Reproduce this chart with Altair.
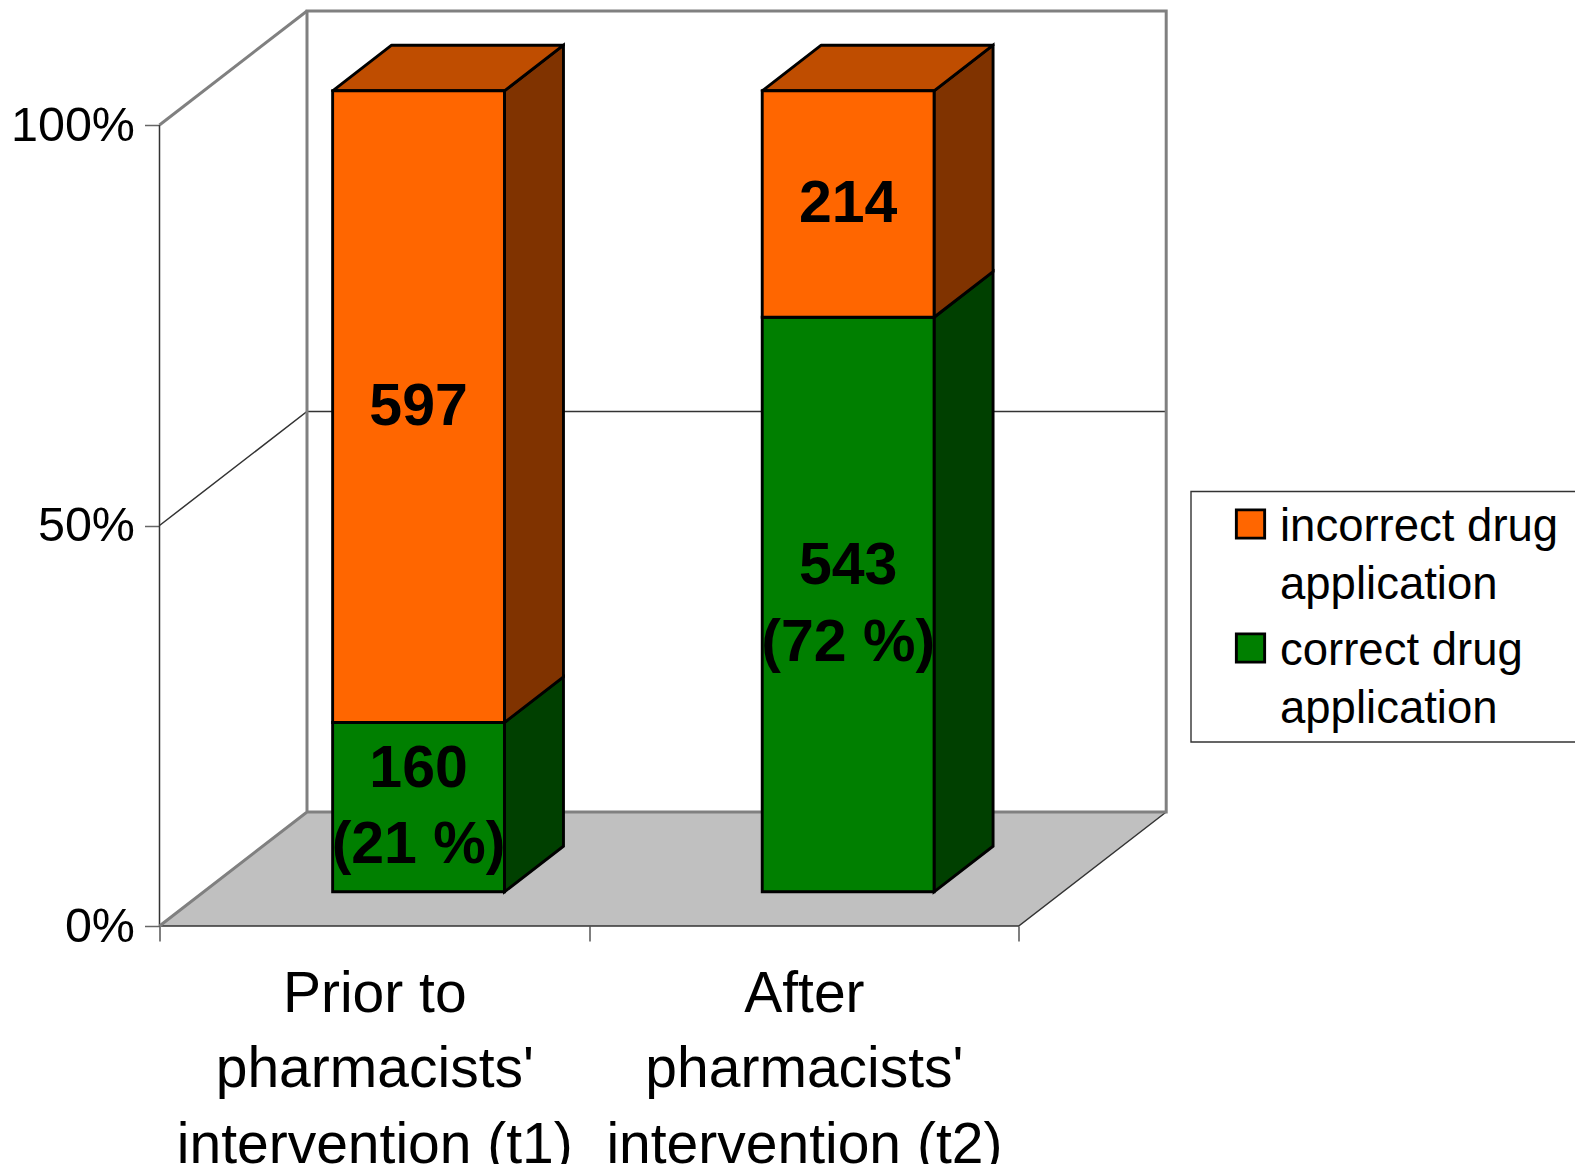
import json
import altair as alt
import pandas as pd

# ---- values ----
CATEGORY_LINES = [["Prior to", "pharmacists'", "intervention (t1)"],
                  ["After", "pharmacists'", "intervention (t2)"]]
SERIES = ["incorrect drug application", "correct drug application"]
LEGEND_TEXT = ["incorrect drug\napplication", "correct drug\napplication"]
INCORRECT = [597, 214]
CORRECT = [160, 543]
INCORRECT_LABELS = ["597", "214"]
CORRECT_LABELS = ["160\n(21 %)", "543\n(72 %)"]
Y_TICKS = [0, 50, 100]

# ---- styling ----
FRONT = {"incorrect": "#ff6600", "correct": "#007f00"}
SIDE = {"incorrect": "#803300", "correct": "#004000"}
TOP = "#bf4d00"
FLOOR = "#c0c0c0"
WALL = "#808080"
FONT = "Liberation Sans"
LABEL_LINE = 76.7
EDGE = 2.9

# ---- layout ----
X0, Y0 = 159.5, 926.0      # page pixel of the front-left floor corner
CAT_PX = 429.6             # pixels per category
PCT_PX = 8.01              # pixels per percent
PLOT_W, PLOT_H = 1007.5, 914.0
X_MAX, Y_MAX = PLOT_W / CAT_PX, PLOT_H / PCT_PX
DX, DY = 147.5 / CAT_PX, 114.0 / PCT_PX   # full depth of the box in data units
D0, D1 = 0.30, 0.70        # bar depth range
BAR_L, BAR_R = 0.30, 0.70  # bar span inside a category


def px_x(p):
    return (p - X0) / CAT_PX


def px_y(p):
    return (Y0 - p) / PCT_PX


def proj(x, y, d):
    return x + d * DX, y + d * DY


# ---- bar geometry, from the values ----
fronts, sides, tops, labels = [], [], [], []
for i, (inc, cor) in enumerate(zip(INCORRECT, CORRECT)):
    total = inc + cor
    share = cor / total * 100
    segments = [("correct", 0, share, CORRECT_LABELS[i]),
                ("incorrect", share, 100, INCORRECT_LABELS[i])]
    for name, lo, hi, text in segments:
        xl, ylo = proj(i + BAR_L, lo, D0)
        xr, yhi = proj(i + BAR_R, hi, D0)
        fronts.append(dict(x=xl, x2=xr, y=ylo, y2=yhi,
                           series=SERIES[0] if name == "incorrect" else SERIES[1]))
        extra_lines = text.count("\n")
        labels.append(dict(x=(xl + xr) / 2,
                           y=(ylo + yhi) / 2 + extra_lines * LABEL_LINE / 2 / PCT_PX,
                           text=text))
        for d in (D0, D1):
            sx, slo = proj(i + BAR_R, lo, d)
            _, shi = proj(i + BAR_R, hi, d)
            sides.append(dict(id=f"{i}{name}", x=sx, y=slo, y2=shi, fill=SIDE[name]))
    for d in (D0, D1):
        xl, yt = proj(i + BAR_L, 100, d)
        xr, _ = proj(i + BAR_R, 100, d)
        tops.append(dict(id=str(i), x=xl, x2=xr, y=yt, fill=TOP))

fronts, sides, tops, labels = map(pd.DataFrame, (fronts, sides, tops, labels))

# ---- box geometry ----
floor = pd.DataFrame([dict(x=0, x2=2, y=0), dict(x=DX, x2=2 + DX, y=DY)])


def paths_table(*paths):
    rows = []
    for n, path in enumerate(paths):
        for x, y in path:
            rows.append(dict(id=n, o=len(rows), x=x, y=y))
    return pd.DataFrame(rows)


thick = paths_table(
    [(0, 0), (DX, DY), (2 + DX, DY), (2 + DX, 100 + DY), (DX, 100 + DY), (DX, DY)],
    [(0, 100), (DX, 100 + DY)])
thin = paths_table(
    [(0, 0), (0, 100)],
    [(0, 0), (2, 0), (2 + DX, DY)],
    [(0, 50), (DX, 50 + DY), (2 + DX, 50 + DY)])

# ---- legend geometry ----
legend_frame = pd.DataFrame([dict(x=px_x(1191), x2=px_x(1640), y=px_y(491.5), y2=px_y(742))])
legend_rows = pd.DataFrame({
    "series": SERIES,
    "text": LEGEND_TEXT,
    "sx": [px_x(1250.5)] * 2,
    "tx": [px_x(1280)] * 2,
    "sy": [px_y(524), px_y(648)],
    "ty": [px_y(527), px_y(651)],
})

# ---- scales, axes ----
cat_expr = (f"datum.value == 0.5 ? {json.dumps(CATEGORY_LINES[0])}"
            f" : datum.value == 1.5 ? {json.dumps(CATEGORY_LINES[1])} : ''")
x_axis = alt.Axis(values=[0, 0.5, 1, 1.5, 2], title=None, domain=False, grid=False,
                  tickSize=15, tickColor="#555555", tickWidth=1.5,
                  tickOpacity=alt.condition("datum.value == 0.5 || datum.value == 1.5",
                                            alt.value(0), alt.value(1)),
                  labelExpr=cat_expr, labelFont=FONT, labelFontSize=57, labelColor="black",
                  labelLineHeight=75.7, labelPadding=25, labelOverlap=False, labelFlush=False,
                  labelBound=False, labelLimit=0)
y_axis = alt.Axis(values=Y_TICKS, title=None, domain=False, grid=False,
                  tickSize=15, tickColor="#666666", tickWidth=1.5,
                  labelExpr="datum.value + '%'", labelFont=FONT, labelFontSize=48.5,
                  labelColor="black", labelPadding=10, labelOverlap=False, labelFlush=False,
                  labelBound=False, labelLimit=0)
x_scale = alt.Scale(domain=[0, X_MAX], nice=False, zero=False)
y_scale = alt.Scale(domain=[0, Y_MAX], nice=False, zero=False)
X = alt.X("x:Q", scale=x_scale, axis=x_axis)
Y = alt.Y("y:Q", scale=y_scale, axis=y_axis)
COLOR = alt.Color("series:N", legend=None,
                  scale=alt.Scale(domain=SERIES, range=[FRONT["incorrect"], FRONT["correct"]]))


def polyline(df, color, width):
    return alt.Chart(df).mark_line(color=color, strokeWidth=width).encode(
        x=X, y=Y, detail="id:N", order="o:Q")


layers = [
    alt.Chart(floor).mark_area(orient="horizontal", fill=FLOOR)
    .encode(x=X, x2=alt.X2("x2:Q"), y=Y),
    polyline(thin, "#333333", 1.5),
    polyline(thick, WALL, 3),
    alt.Chart(sides).mark_area(stroke="black", strokeWidth=EDGE)
    .encode(x=X, y=Y, y2=alt.Y2("y2:Q"), detail="id:N", fill=alt.Fill("fill:N", scale=None)),
    alt.Chart(tops).mark_area(orient="horizontal", stroke="black", strokeWidth=EDGE, strokeJoin="round")
    .encode(x=X, x2=alt.X2("x2:Q"), y=Y, detail="id:N", fill=alt.Fill("fill:N", scale=None)),
    alt.Chart(fronts).mark_bar(stroke="black", strokeWidth=EDGE)
    .encode(x=X, x2=alt.X2("x2:Q"), y=Y, y2=alt.Y2("y2:Q"), color=COLOR),
    alt.Chart(labels).mark_text(font=FONT, fontSize=59, fontWeight="bold", color="black",
                                baseline="middle", align="center", lineBreak="\n", lineHeight=LABEL_LINE)
    .encode(x=X, y=Y, text="text:N"),
    alt.Chart(legend_frame).mark_rect(fill="white", stroke="#333333", strokeWidth=1.4)
    .encode(x=X, x2=alt.X2("x2:Q"), y=Y, y2=alt.Y2("y2:Q")),
    alt.Chart(legend_rows).mark_square(size=800, opacity=1, stroke="black", strokeWidth=EDGE)
    .encode(x=alt.X("sx:Q", scale=x_scale, axis=x_axis),
            y=alt.Y("sy:Q", scale=y_scale, axis=y_axis), color=COLOR),
    alt.Chart(legend_rows).mark_text(font=FONT, fontSize=45.5, color="black", align="left",
                                     baseline="middle", lineBreak="\n", lineHeight=57.5)
    .encode(x=alt.X("tx:Q", scale=x_scale, axis=x_axis),
            y=alt.Y("ty:Q", scale=y_scale, axis=y_axis), text="text:N"),
]

TOTAL_W, TOTAL_H = 1567, 1156
pad_left, pad_top = X0 - 8, Y0 - PLOT_H - 8
chart = (
    alt.layer(*layers)
    .properties(width=PLOT_W, height=PLOT_H,
                autosize=alt.AutoSizeParams(type="none"),
                padding={"left": pad_left, "top": pad_top,
                         "right": TOTAL_W - PLOT_W - pad_left,
                         "bottom": TOTAL_H - PLOT_H - pad_top})
    .configure_view(stroke=None)
)
chart.save("out.html", embed_options={"renderer": "svg", "actions": False})
